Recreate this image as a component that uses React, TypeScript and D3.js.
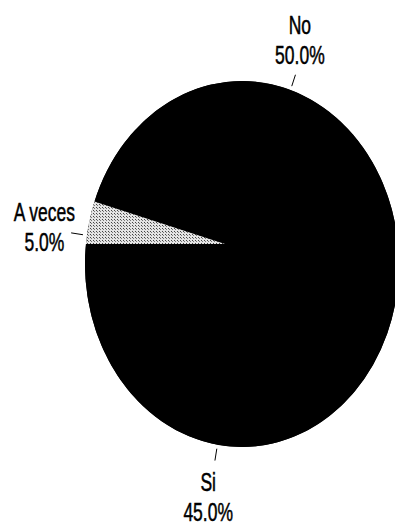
import React from "react";
import * as d3 from "d3";

const categories = ["No", "Si", "A veces"];
const values = [50, 45, 5];
const percentLabels = ["50.0%", "45.0%", "5.0%"];

const W = 395;
const H = 526;
// pie outline (scanned ellipse) and apex
const CX = 242;
const CY = 264;
const RX = 157;
const RY = 183;
const AX = 225;
const AY = 244;
const START = (288 * Math.PI) / 180;

function rayEllipse(theta: number): [number, number] {
  const dx = Math.sin(theta);
  const dy = -Math.cos(theta);
  const px = (AX - CX) / RX;
  const py = (AY - CY) / RY;
  const qx = dx / RX;
  const qy = dy / RY;
  const a = qx * qx + qy * qy;
  const b = 2 * (px * qx + py * qy);
  const c = px * px + py * py - 1;
  const t = (-b + Math.sqrt(b * b - 4 * a * c)) / (2 * a);
  return [AX + t * dx, AY + t * dy];
}

function paramAngle(p: [number, number]) {
  return Math.atan2((p[1] - CY) / RY, (p[0] - CX) / RX);
}

function slicePath(a0: number, a1: number) {
  const p0 = rayEllipse(a0);
  const p1 = rayEllipse(a1);
  let span = paramAngle(p1) - paramAngle(p0);
  while (span < 0) span += 2 * Math.PI;
  const large = span > Math.PI ? 1 : 0;
  return `M${AX},${AY}L${p0[0]},${p0[1]}A${RX},${RY} 0 ${large} 1 ${p1[0]},${p1[1]}Z`;
}

const fills = ["#000000", "#000000", "url(#hatch)"];

export default function App() {
  const pie = d3
    .pie<number>()
    .sort(null)
    .startAngle(START)
    .endAngle(START + 2 * Math.PI);
  const arcs = pie(values);

  return (
    <svg
      width={W}
      height={H}
      style={{ position: "absolute", left: 0, top: 0, background: "#fff" }}
      fontFamily="'Liberation Sans', Arial, sans-serif"
    >
      <defs>
        <pattern id="hatch" width={3} height={3} patternUnits="userSpaceOnUse">
          <rect width={3} height={3} fill="#e4e4e4" />
          <rect x={0} y={0} width={1} height={1} fill="#444" />
          <rect x={1} y={1} width={1} height={1} fill="#777" />
        </pattern>
      </defs>
      <ellipse cx={CX} cy={CY} rx={RX} ry={RY} fill="#000" />
      {arcs.map((a, i) => (
        <path key={categories[i]} d={slicePath(a.startAngle, a.endAngle)} fill={fills[i]} />
      ))}
      {arcs.map((a, i) => {
        const m = (a.startAngle + a.endAngle) / 2;
        const s = Math.sin(m);
        const c = -Math.cos(m);
        const x1 = CX + (RX + 4) * s;
        const y1 = CY + (RY + 4) * c;
        const x2 = CX + (RX + 16) * s;
        const y2 = CY + (RY + 16) * c;
        const lx = CX - 3 + (RX + 40) * s;
        const ly = CY + (RY + 53) * c;
        return (
          <g key={"l" + i}>
            <line x1={x1} y1={y1} x2={x2} y2={y2} stroke="#000" strokeWidth={1} />
            <g transform={`translate(${lx},${ly}) scale(0.7,1)`}>
              <text x={0} y={-6} textAnchor="middle" fontSize={25} fill="#000" stroke="#000" strokeWidth={0.5}>
                {categories[i]}
              </text>
              <text x={0} y={24} textAnchor="middle" fontSize={25} fill="#000" stroke="#000" strokeWidth={0.5}>
                {percentLabels[i]}
              </text>
            </g>
          </g>
        );
      })}
    </svg>
  );
}
